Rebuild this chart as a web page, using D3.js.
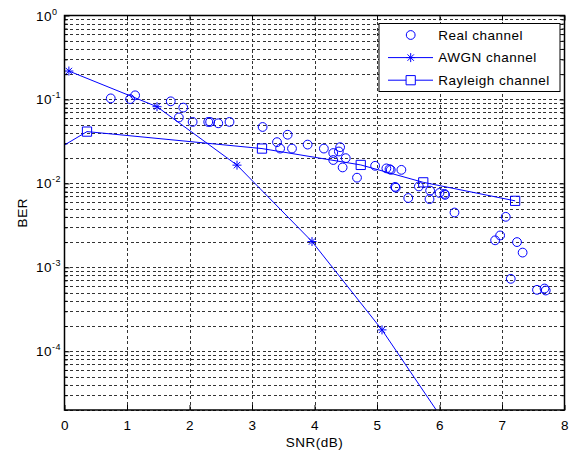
<!DOCTYPE html>
<html>
<head>
<meta charset="utf-8">
<script src="https://cdn.jsdelivr.net/npm/d3@7"></script>
<style>
body { margin: 0; background: #fff; }
svg text { font-family: "Liberation Sans", Arial, sans-serif; font-size: 13.5px; letter-spacing: 0.5px; fill: #000; }
</style>
</head>
<body>
<svg></svg>
<script>
// values
var snrReal = [0.74, 1.05, 1.13, 1.70, 1.90, 1.83, 2.05, 2.30, 2.33, 2.46, 2.64, 3.17, 3.57, 3.40, 3.45, 3.64,
  3.89, 4.15, 4.30, 4.41, 4.39, 4.30, 4.50, 4.45, 4.68, 4.97, 5.15, 5.20, 5.22, 5.39, 5.29, 5.30, 5.50,
  5.67, 5.85, 5.84, 6.00, 6.08, 6.09, 6.24, 7.06, 6.97, 6.89, 7.24, 7.33, 7.14, 7.56, 7.68, 7.70];
var berReal = [0.103, 0.101, 0.112, 0.095, 0.080, 0.061, 0.054, 0.054, 0.054, 0.052, 0.054, 0.047, 0.038, 0.031, 0.026, 0.026,
  0.029, 0.026, 0.023, 0.027, 0.024, 0.019, 0.020, 0.0155, 0.0117, 0.0162, 0.0151, 0.0148, 0.0145, 0.0145, 0.0091, 0.0089, 0.0067,
  0.0092, 0.0082, 0.0065, 0.0077, 0.0075, 0.0073, 0.0045, 0.0040, 0.0024, 0.0021, 0.0020, 0.0015, 0.00073, 0.00054, 0.00056, 0.00053];

var snrAwgn = [0.07, 1.48, 2.76, 3.96, 5.08, 6.15];
var berAwgn = [0.218, 0.082, 0.0165, 0.00203, 0.00018, 0.000012];

var snrRayleigh = [-0.5, 0.36, 3.16, 4.74, 5.74, 7.21];
var berRayleigh = [0.0172, 0.0414, 0.026, 0.0166, 0.0103, 0.0062];

var xTicks = [0, 1, 2, 3, 4, 5, 6, 7, 8];
var yDecades = [1, 0.1, 0.01, 0.001, 0.0001];
var yExponents = ["0", "-1", "-2", "-3", "-4"];
var legendLabels = ["Real channel", "AWGN channel", "Rayleigh channel"];

var svgWidth = 572, svgHeight = 452;
var plot = {left: 64.5, top: 15.5, right: 564.5, bottom: 410};
var blue = "#0000ff";

var svg = d3.select("svg")
  .attr("width", svgWidth)
  .attr("height", svgHeight);

var x = d3.scaleLinear().domain([0, 8]).range([plot.left, plot.right]);
var y = d3.scaleLog().domain([2e-5, 1]).range([plot.bottom, plot.top]);

// minor log ticks 2..9 of each decade
var yMinor = [];
for (var e = -5; e <= -1; e++) {
  for (var m = 2; m <= 9; m++) {
    var v = m * Math.pow(10, e);
    if (v >= 2e-5) yMinor.push(v);
  }
}

var plotW = plot.right - plot.left, plotH = plot.bottom - plot.top;

// dotted grid
var gridY = svg.append("g")
  .attr("transform", "translate(" + plot.left + ",0)")
  .call(d3.axisLeft(y).tickValues(yDecades.slice(1).concat(yMinor)).tickSize(-plotW).tickFormat(""));
var gridX = svg.append("g")
  .attr("transform", "translate(0," + plot.bottom + ")")
  .call(d3.axisBottom(x).tickValues(xTicks.slice(1, -1)).tickSize(-plotH).tickFormat(""));
[gridX, gridY].forEach(function(g) {
  g.select(".domain").remove();
  g.selectAll("line")
    .attr("stroke", "#333")
    .attr("stroke-dasharray", "3,2.5")
    .attr("shape-rendering", "crispEdges");
});

// ticks on all four sides
svg.append("g")
  .attr("transform", "translate(0," + plot.bottom + ")")
  .call(d3.axisBottom(x).tickValues(xTicks).tickSizeInner(-5).tickSizeOuter(0).tickPadding(10.5));
svg.append("g")
  .attr("transform", "translate(0," + plot.top + ")")
  .call(d3.axisTop(x).tickValues(xTicks).tickSizeInner(-5).tickSizeOuter(0).tickFormat(""));
svg.append("g")
  .attr("transform", "translate(" + plot.left + ",0)")
  .call(d3.axisLeft(y).tickValues(yDecades).tickSizeInner(-5).tickSizeOuter(0).tickFormat(""));
svg.append("g")
  .attr("transform", "translate(" + plot.left + ",0)")
  .call(d3.axisLeft(y).tickValues(yMinor).tickSizeInner(-3).tickSizeOuter(0).tickFormat(""));
svg.append("g")
  .attr("transform", "translate(" + plot.right + ",0)")
  .call(d3.axisRight(y).tickValues(yDecades).tickSizeInner(-5).tickSizeOuter(0).tickFormat(""));
svg.append("g")
  .attr("transform", "translate(" + plot.right + ",0)")
  .call(d3.axisRight(y).tickValues(yMinor).tickSizeInner(-3).tickSizeOuter(0).tickFormat(""));
svg.selectAll(".domain").remove();

// y labels as 10^n
var yLabels = svg.append("g").selectAll("text")
  .data(yDecades)
  .enter()
  .append("text")
  .attr("x", 36)
  .attr("y", function(d) { return y(d) + 5; });
yLabels.append("tspan").text("10");
yLabels.append("tspan")
  .attr("dy", -6)
  .style("font-size", "9px")
  .text(function(d, i) { return yExponents[i]; });

svg.append("text")
  .attr("x", (plot.left + plot.right) / 2)
  .attr("y", 447)
  .attr("text-anchor", "middle")
  .text("SNR(dB)");
svg.append("text")
  .attr("transform", "translate(27," + (plot.top + plot.bottom) / 2 + ") rotate(-90)")
  .attr("text-anchor", "middle")
  .text("BER");

// clip for the curves
svg.append("clipPath").attr("id", "clip")
  .append("rect")
  .attr("x", plot.left).attr("y", plot.top)
  .attr("width", plotW).attr("height", plotH);

var line = d3.line()
  .x(function(d) { return x(d[0]); })
  .y(function(d) { return y(d[1]); });

var awgn = d3.zip(snrAwgn, berAwgn);
var rayleigh = d3.zip(snrRayleigh, berRayleigh);
var real = d3.zip(snrReal, berReal);

var curves = svg.append("g").attr("clip-path", "url(#clip)");
curves.append("path")
  .attr("d", line(awgn))
  .attr("fill", "none").attr("stroke", blue).attr("stroke-width", 1);
curves.append("path")
  .attr("d", line(rayleigh))
  .attr("fill", "none").attr("stroke", blue).attr("stroke-width", 1);

var starPath = "M-4.5,0L4.5,0M0,-4.5L0,4.5M-3.2,-3.2L3.2,3.2M-3.2,3.2L3.2,-3.2";
var squarePath = d3.symbol().type(d3.symbolSquare).size(85)();

curves.selectAll(".star")
  .data(awgn)
  .enter()
  .append("path")
  .attr("transform", function(d) { return "translate(" + x(d[0]) + "," + y(d[1]) + ")"; })
  .attr("d", starPath)
  .attr("fill", "none").attr("stroke", blue);

curves.selectAll(".square")
  .data(rayleigh)
  .enter()
  .append("path")
  .attr("transform", function(d) { return "translate(" + x(d[0]) + "," + y(d[1]) + ")"; })
  .attr("d", squarePath)
  .attr("fill", "none").attr("stroke", blue);

curves.selectAll("circle")
  .data(real)
  .enter()
  .append("circle")
  .attr("cx", function(d) { return x(d[0]); })
  .attr("cy", function(d) { return y(d[1]); })
  .attr("r", 4.4)
  .attr("fill", "none").attr("stroke", blue);

// frame
svg.append("rect")
  .attr("x", plot.left).attr("y", plot.top)
  .attr("width", plotW).attr("height", plotH)
  .attr("fill", "none").attr("stroke", "#000").attr("stroke-width", 1.5);

// legend
var legend = svg.append("g");
legend.append("rect")
  .attr("x", 379).attr("y", 23.5)
  .attr("width", 181).attr("height", 68)
  .attr("fill", "#fff").attr("stroke", "#000");

var rows = legend.selectAll("g.row")
  .data(legendLabels)
  .enter()
  .append("g")
  .attr("transform", function(d, i) { return "translate(0," + (35 + i * 22.6) + ")"; });

rows.filter(function(d, i) { return i > 0; })
  .append("line")
  .attr("x1", 388).attr("x2", 433)
  .attr("stroke", blue);
rows.each(function(d, i) {
  var r = d3.select(this);
  if (i === 0) {
    r.append("circle").attr("cx", 410.7).attr("r", 4.4).attr("fill", "none").attr("stroke", blue);
  } else {
    r.append("path")
      .attr("transform", "translate(410.7,0)")
      .attr("d", i === 1 ? starPath : squarePath)
      .attr("fill", i === 2 ? "#fff" : "none")
      .attr("stroke", blue);
  }
});
rows.append("text")
  .attr("x", 438.3)
  .attr("dy", "0.36em")
  .text(function(d) { return d; });
</script>
</body>
</html>
